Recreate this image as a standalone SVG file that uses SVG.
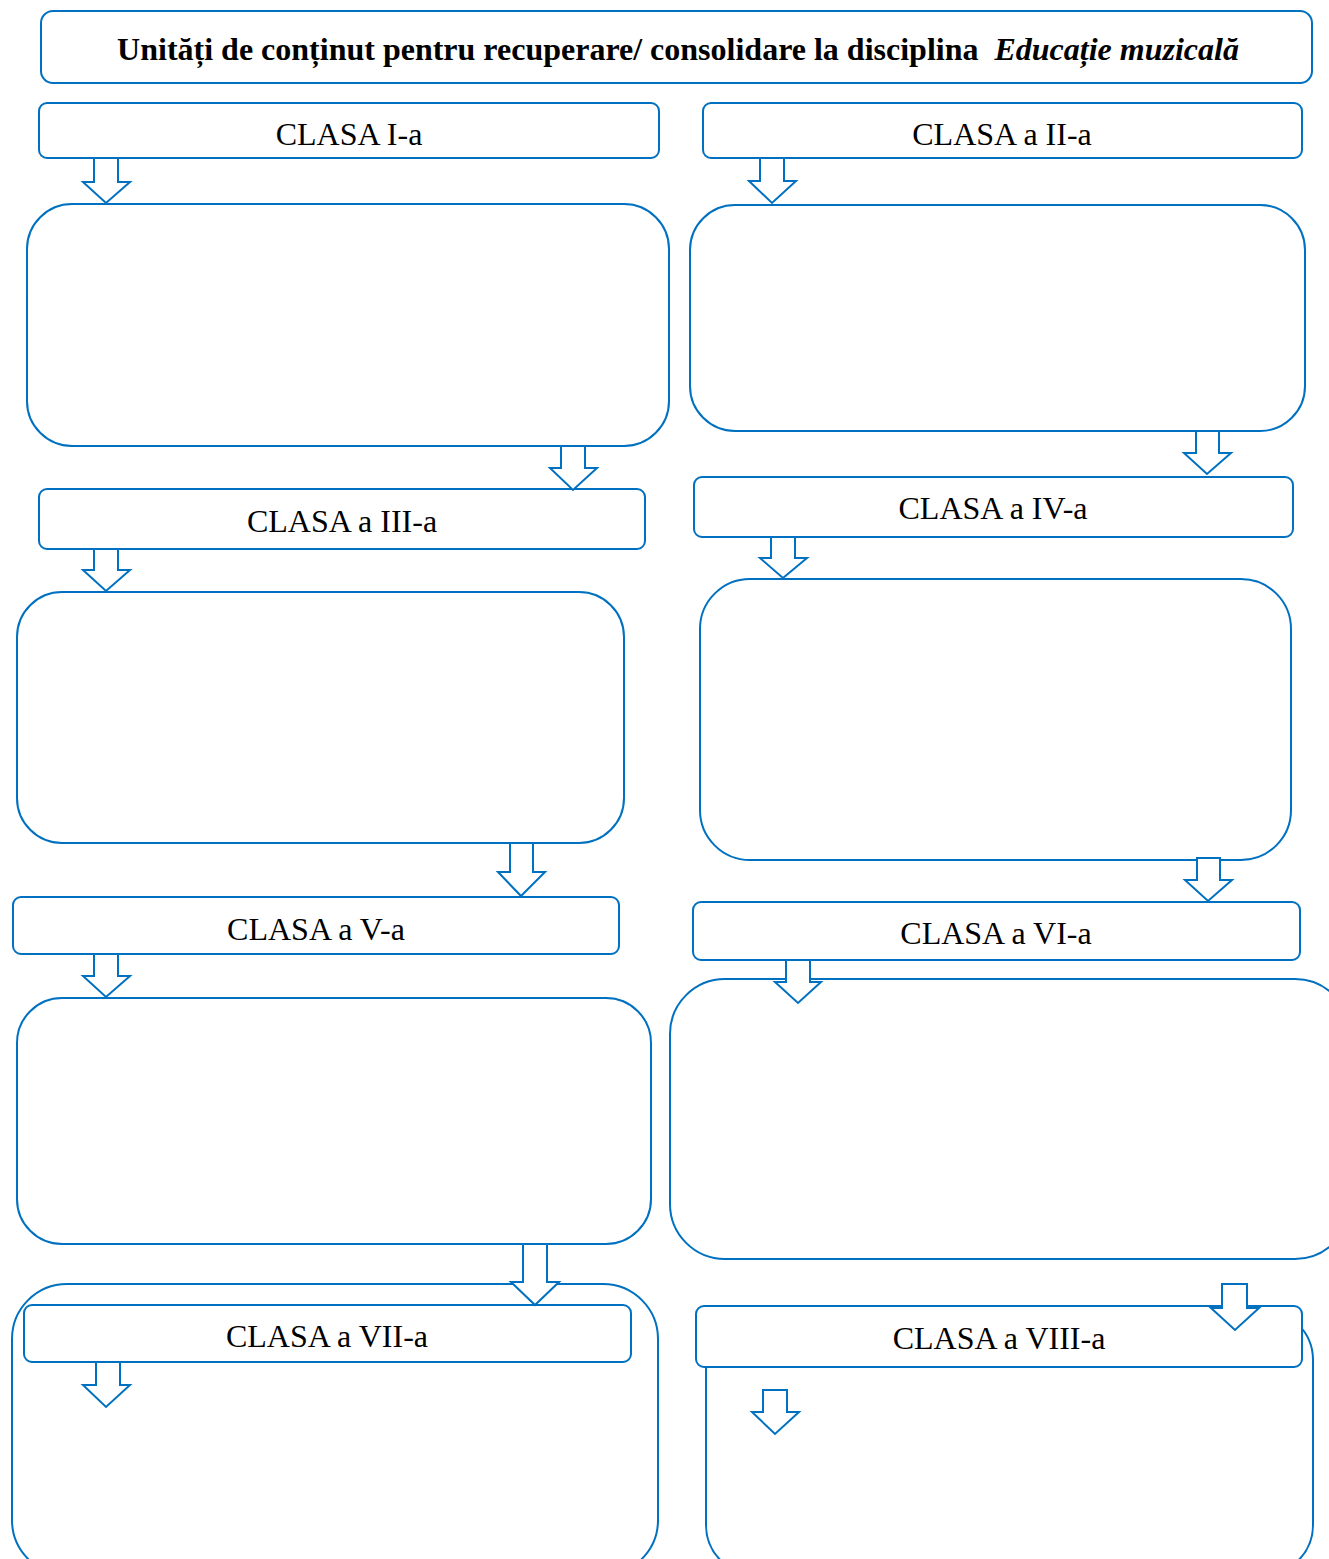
<svg xmlns="http://www.w3.org/2000/svg" width="1329" height="1559" viewBox="0 0 1329 1559">
<style>
.b{fill:#fff;stroke:#0070C0;stroke-width:2}
.a{fill:#fff;stroke:#0070C0;stroke-width:2;stroke-linejoin:miter}
.t{font-family:"Liberation Serif","Times New Roman",serif;font-size:32px;fill:#000;text-anchor:middle}
.h{font-family:"Liberation Serif","Times New Roman",serif;font-size:32px;font-weight:bold;fill:#000;text-anchor:middle;white-space:pre}
</style>
<rect width="1329" height="1559" fill="#fff"/>
<g id="title"><rect class="b" x="41" y="11" width="1271" height="72" rx="12"/><text class="h" x="678" y="60">Unități de conținut pentru recuperare/ consolidare la disciplina  <tspan font-style="italic">Educație muzicală</tspan></text></g>

<g id="content1"><rect class="b" x="27" y="204" width="642" height="242" rx="45"/></g>
<g id="content2"><rect class="b" x="690" y="205" width="615" height="226" rx="45"/></g>
<g id="content3"><rect class="b" x="17" y="592" width="607" height="251" rx="45"/></g>
<g id="content4"><rect class="b" x="700" y="579" width="591" height="281" rx="50"/></g>
<g id="content5"><rect class="b" x="17" y="998" width="634" height="246" rx="45"/></g>
<g id="content6"><rect class="b" x="670" y="979" width="680" height="280" rx="55"/></g>
<g id="content7"><rect class="b" x="12" y="1284" width="646" height="291" rx="55"/></g>
<g id="content8"><rect class="b" x="706" y="1310" width="607" height="265" rx="50"/></g>

<g id="class1"><rect class="b" x="39" y="103" width="620" height="55" rx="8"/><text class="t" x="349" y="145">CLASA I-a</text></g>
<g id="class2"><rect class="b" x="703" y="103" width="599" height="55" rx="8"/><text class="t" x="1002" y="145">CLASA a II-a</text></g>
<g id="class3"><rect class="b" x="39" y="489" width="606" height="60" rx="8"/><text class="t" x="342" y="532">CLASA a III-a</text></g>
<g id="class4"><rect class="b" x="694" y="477" width="599" height="60" rx="8"/><text class="t" x="993" y="519">CLASA a IV-a</text></g>
<g id="class5"><rect class="b" x="13" y="897" width="606" height="57" rx="8"/><text class="t" x="316" y="940">CLASA a V-a</text></g>
<g id="class6"><rect class="b" x="693" y="902" width="607" height="58" rx="8"/><text class="t" x="996" y="944">CLASA a VI-a</text></g>
<g id="class7"><rect class="b" x="24" y="1305" width="607" height="57" rx="8"/><text class="t" x="327" y="1347">CLASA a VII-a</text></g>
<g id="class8"><rect class="b" x="696" y="1306" width="606" height="61" rx="8"/><text class="t" x="999" y="1349">CLASA a VIII-a</text></g>

<g id="connectors">
<path class="a" d="M94,158 V182 H83 L106,203 L130,182 H118 V158 Z"/>
<path class="a" d="M760,158 V181 H749 L772,203 L796,181 H784 V158 Z"/>
<path class="a" d="M561,446 V468 H550 L573,490 L597,468 H585 V446 Z"/>
<path class="a" d="M1196,431 V453 H1184 L1207,474 L1231,453 H1219 V431 Z"/>
<path class="a" d="M94,549 V570 H83 L106,591 L130,570 H118 V549 Z"/>
<path class="a" d="M771,537 V558 H760 L783,578 L807,558 H795 V537 Z"/>
<path class="a" d="M510,843 V872 H498 L521,896 L545,872 H533 V843 Z"/>
<path class="a" d="M1197,858 V880 H1185 L1208,901 L1232,880 H1220 V858 Z"/>
<path class="a" d="M94,954 V976 H83 L106,997 L130,976 H118 V954 Z"/>
<path class="a" d="M786,960 V982 H775 L798,1003 L821,982 H810 V960 Z"/>
<path class="a" d="M523,1244 V1282 H511 L535,1305 L559,1282 H547 V1244 Z"/>
<path class="a" d="M96,1362 V1385 H83 L106,1407 L130,1385 H120 V1362 Z"/>
<path class="a" d="M1222,1284 V1308 H1211 L1235,1330 L1259,1308 H1247 V1284 Z"/>
<path class="a" d="M763,1390 V1412 H752 L775,1434 L799,1412 H787 V1390 Z"/>
</g>
</svg>
